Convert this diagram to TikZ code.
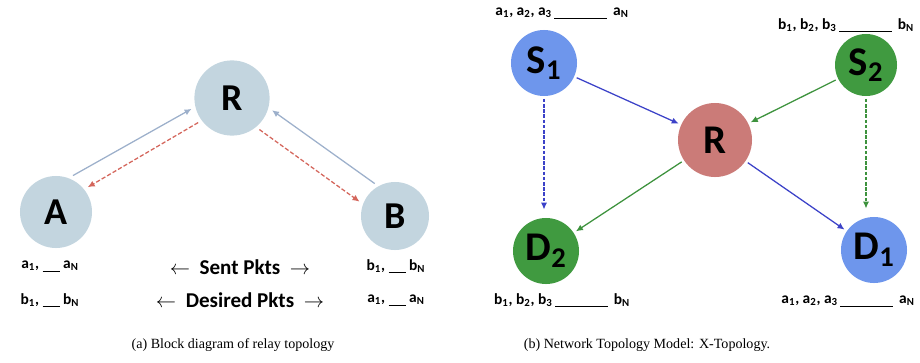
\documentclass[tikz,border=0pt]{standalone}
\usepackage{fontspec}
\setmainfont{Liberation Serif}
\newfontfamily\labfont{Carlito}
\usepackage{tikz}
\usetikzlibrary{arrows.meta, positioning, calc}

\definecolor{nodegrey}{HTML}{C3D5DF}
\definecolor{linegrey}{HTML}{9DB0CB}
\definecolor{reddash}{HTML}{D4665C}
\definecolor{srcblue}{HTML}{6E96EC}
\definecolor{arrblue}{HTML}{3C42C8}
\definecolor{srcgreen}{HTML}{409A40}
\definecolor{arrgreen}{HTML}{3D923D}
\definecolor{relayred}{HTML}{CB7B78}

\newcommand{\seqshort}[1]{#1\textsubscript{1}, \rule[-0.35ex]{1.1em}{0.4pt} #1\textsubscript{N}}
\newcommand{\seqlong}[1]{#1\textsubscript{1}, #1\textsubscript{2}, #1\textsubscript{3}\,\rule[-0.35ex]{3.4em}{0.4pt}\, #1\textsubscript{N}}

\begin{document}
\begin{tikzpicture}[x=0.025cm, y=-0.025cm,
      grey/.style={circle, fill=nodegrey, inner sep=0pt, outer sep=3pt, font=\labfont\bfseries\fontsize{27}{27}\selectfont},
      xnode/.style={circle, inner sep=0pt, outer sep=2pt, font=\labfont\bfseries\fontsize{29}{29}\selectfont},
      lbl/.style={font=\labfont\bfseries\fontsize{11}{12}\selectfont},
      pkt/.style={font=\labfont\bfseries\fontsize{15}{15}\selectfont},
      tip/.style={-{Latex[length=5pt,width=4.5pt]}, line width=0.9pt}]
      \useasboundingbox (0,0) rectangle (920,362);

      % (a) relay topology
      \node[grey, minimum size=1.88cm] (R) at (232,98) {R};
      \node[grey, minimum size=1.8cm] (A) at (56,212) {A};
      \node[grey, minimum size=1.7cm] (B) at (395,216) {B};

      \draw[tip, linegrey] (A.65) -- (R.195);
      \draw[tip, reddash, dashed, dash pattern=on 3pt off 1.5pt] (R.216) -- (A.38);
      \draw[tip, linegrey] (B.122) -- (R.-17);
      \draw[tip, reddash, dashed, dash pattern=on 3pt off 1.5pt] (R.-49) -- (B.158);

      \node[lbl] (asentA) at (50,266) {\seqshort{a}};
      \node[lbl] (bwantA) at (50,300) {\seqshort{b}};
      \node[pkt] (sent) at (240,267) {$\leftarrow$\ \ Sent Pkts\ \ $\rightarrow$};
      \node[pkt] (want) at (240,300) {$\leftarrow$\ \ Desired Pkts\ \ $\rightarrow$};
      \node[lbl] (bsentB) at (396,266) {\seqshort{b}};
      \node[lbl] (awantB) at (396,300) {\seqshort{a}};

      % (b) X-topology
      \node[xnode, fill=srcblue, minimum size=1.65cm] (S1) at (544,63) {S\textsubscript{1}};
      \node[xnode, fill=srcgreen, minimum size=1.55cm] (S2) at (866,65) {S\textsubscript{2}};
      \node[xnode, fill=relayred, minimum size=1.85cm] (X) at (715,140) {R};
      \node[xnode, fill=srcgreen, minimum size=1.65cm] (D2) at (546,251) {D\textsubscript{2}};
      \node[xnode, fill=srcblue, minimum size=1.65cm] (D1) at (874,250) {D\textsubscript{1}};

      \draw[tip, arrblue] (S1) -- (X);
      \draw[tip, arrgreen] (S2) -- (X);
      \draw[tip, arrgreen] (X) -- (D2);
      \draw[tip, arrblue] (X) -- (D1);
      \draw[tip, arrblue, dashed, dash pattern=on 2.5pt off 1.2pt, shorten >=4pt] (S1.south) -- (S1.south |- D2.north);
      \draw[tip, arrgreen, dashed, dash pattern=on 2.5pt off 1.2pt, shorten >=4pt] (S2.south) -- (S2.south |- D1.north);

      \node[lbl] (srcA) at (562,13) {\seqlong{a}};
      \node[lbl] (srcB) at (846,25) {\seqlong{b}};
      \node[lbl] (dstB) at (562,300) {\seqlong{b}};
      \node[lbl] (dstA) at (848,301) {\seqlong{a}};

      % captions
      \node[font=\fontsize{10}{12}\selectfont] (capa) at (233,345) {(a) Block diagram of relay topology};
      \node[font=\fontsize{10}{12}\selectfont] (capb) at (647,345) {(b) Network Topology Model: X-Topology.};
    \end{tikzpicture}
\end{document}
